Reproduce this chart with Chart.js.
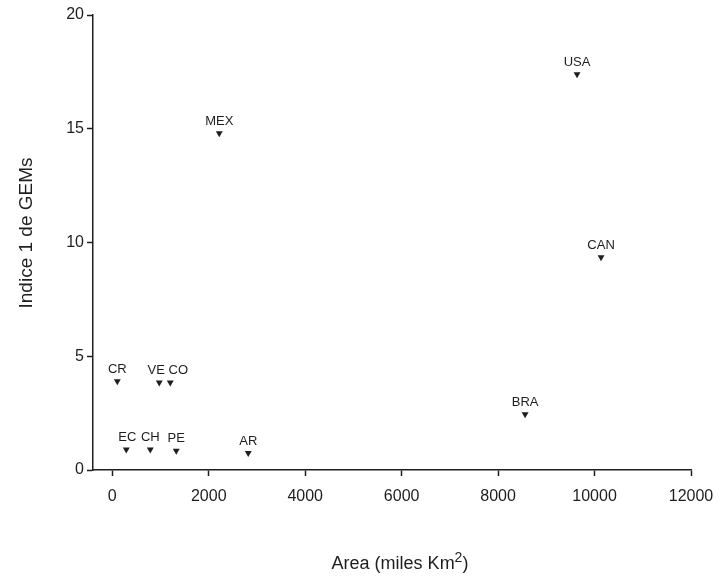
<!DOCTYPE html>
<html>
<head>
<meta charset="utf-8">
<script src="https://cdn.jsdelivr.net/npm/chart.js@4/dist/chart.umd.min.js"></script>
<style>
  html, body { margin: 0; padding: 0; background: #fff; }
  #wrap { width: 725px; height: 579px; }
</style>
</head>
<body>
<div id="wrap"><canvas id="chart" width="725" height="579"></canvas></div>
<script>
// Countries, area (miles Km2) and Indice 1 de GEMs
const countries = ['CR', 'VE', 'CO', 'EC', 'CH', 'PE', 'AR', 'MEX', 'BRA', 'CAN', 'USA'];
const areas = [104, 974, 1202, 290, 788, 1326, 2819, 2218, 8560, 10135, 9637];
const gemsIndex = [3.9, 3.85, 3.85, 0.9, 0.9, 0.85, 0.75, 14.8, 2.45, 9.35, 17.4];

const xTicks = [0, 2000, 4000, 6000, 8000, 10000, 12000];
const yTicks = [0, 5, 10, 15, 20];

const ink = '#1e1e1e';
const fontFamily = '"Liberation Sans", Arial, Helvetica, sans-serif';

// labels that would collide get nudged sideways (px)
const labelNudge = { VE: -3, CO: 8, EC: 1 };

// country code above each marker
const pointLabels = {
  id: 'pointLabels',
  afterDatasetsDraw(chart) {
    const ctx = chart.ctx;
    const meta = chart.getDatasetMeta(0);
    ctx.save();
    ctx.fillStyle = ink;
    ctx.font = '13px ' + fontFamily;
    ctx.textAlign = 'center';
    ctx.textBaseline = 'middle';
    meta.data.forEach((pt, i) => {
      const dx = labelNudge[countries[i]] || 0;
      ctx.fillText(countries[i], pt.x + dx, pt.y - 12);
    });
    ctx.restore();
  }
};

// axis titles (x title has a raised "2")
const axisTitles = {
  id: 'axisTitles',
  afterDraw(chart) {
    const ctx = chart.ctx;
    ctx.save();
    ctx.fillStyle = ink;
    ctx.textBaseline = 'alphabetic';
    ctx.textAlign = 'left';

    const main = 'Area (miles Km';
    ctx.font = '18px ' + fontFamily;
    const wMain = ctx.measureText(main).width;
    const wClose = ctx.measureText(')').width;
    ctx.font = '14px ' + fontFamily;
    const wSup = ctx.measureText('2').width;
    const total = wMain + wSup + wClose;
    let x = 400 - total / 2;
    const base = 569;
    ctx.font = '18px ' + fontFamily;
    ctx.fillText(main, x, base);
    x += wMain;
    ctx.font = '14px ' + fontFamily;
    ctx.fillText('2', x, base - 7);
    x += wSup;
    ctx.font = '18px ' + fontFamily;
    ctx.fillText(')', x, base);

    ctx.translate(27, 233);
    ctx.rotate(-Math.PI / 2);
    ctx.textAlign = 'center';
    ctx.textBaseline = 'middle';
    ctx.font = '19px ' + fontFamily;
    ctx.fillText('Indice 1 de GEMs', 0, 0);
    ctx.restore();
  }
};

new Chart(document.getElementById('chart'), {
  type: 'scatter',
  data: {
    datasets: [{
      data: areas.map((a, i) => ({ x: a, y: gemsIndex[i] })),
      pointStyle: 'triangle',
      rotation: 180,
      radius: 4,
      hoverRadius: 4,
      backgroundColor: ink,
      borderColor: ink,
      borderWidth: 0
    }]
  },
  options: {
    responsive: false,
    animation: false,
    layout: { padding: { top: 15, right: 34, bottom: 0, left: 0 } },
    plugins: {
      legend: { display: false },
      tooltip: { enabled: false }
    },
    scales: {
      x: {
        type: 'linear',
        min: -400,
        max: 12000,
        afterBuildTicks: s => { s.ticks = xTicks.map(v => ({ value: v })); },
        afterFit: s => { s.height = 109; },
        grid: {
          drawOnChartArea: false,
          drawTicks: true,
          tickLength: 6,
          tickWidth: 1.5,
          tickColor: ink
        },
        border: { display: true, color: ink, width: 1.5 },
        ticks: {
          color: ink,
          font: { family: fontFamily, size: 16 },
          padding: 11,
          maxRotation: 0,
          callback: v => String(v)
        }
      },
      y: {
        type: 'linear',
        min: 0,
        max: 20,
        afterBuildTicks: s => { s.ticks = yTicks.map(v => ({ value: v })); },
        afterFit: s => { s.width = 93; },
        grid: {
          drawOnChartArea: false,
          drawTicks: true,
          tickLength: 6,
          tickWidth: 1.5,
          tickColor: ink
        },
        border: { display: true, color: ink, width: 1.5 },
        ticks: {
          color: ink,
          font: { family: fontFamily, size: 16 },
          padding: 3,
          callback: v => String(v)
        }
      }
    }
  },
  plugins: [pointLabels, axisTitles]
});
</script>
</body>
</html>
